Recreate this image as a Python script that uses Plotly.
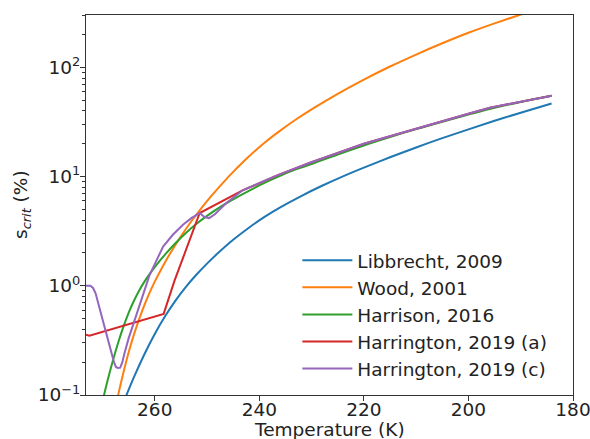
import plotly.graph_objects as go

# Critical supersaturation over ice (%) versus temperature (K)
T_libbrecht = [266.5, 265.4, 264.0, 262.0, 260.0, 258.0, 256.0, 254.0, 252.0, 250.0, 248.0, 245.0,
               242.0, 239.0, 236.0, 232.0, 228.0, 224.0, 220.0, 215.0, 210.0, 205.0, 200.0,
               195.0, 190.0, 184.1]
s_libbrecht = [0.074, 0.100, 0.145, 0.235, 0.362, 0.528, 0.736, 0.984, 1.268, 1.596, 1.972, 2.636,
               3.404, 4.276, 5.224, 6.637, 8.241, 10.05, 12.08, 15.03, 18.49, 22.49, 27.10,
               32.43, 38.46, 46.67]

T_wood = [268.0, 267.0, 266.0, 265.0, 264.0, 263.0, 262.0, 261.0, 260.0, 258.5, 257.0, 255.0,
          253.0, 251.0, 249.0, 247.0, 245.0, 242.0, 239.0, 236.0, 233.0, 230.0, 225.0, 220.0,
          215.0, 210.0, 205.0, 200.0, 195.0, 190.0, 185.0, 184.1]
s_wood = [0.060, 0.100, 0.160, 0.245, 0.355, 0.492, 0.661, 0.861, 1.091, 1.496, 2.000, 2.838,
          3.899, 5.212, 6.808, 8.730, 11.04, 15.28, 20.42, 26.36, 33.34, 41.30, 57.28, 77.27,
          101.9, 131.2, 166.3, 207.5, 252.9, 304.8, 366.4, 378.4]

T_harrison = [270.5, 269.7, 269.0, 268.0, 267.0, 266.0, 265.0, 264.0, 263.0, 262.0, 261.0, 260.0,
              258.0, 256.0, 254.0, 252.0, 250.0, 247.0, 245.0, 242.0, 239.0, 236.7, 233.0, 230.0,
              225.0, 220.0, 215.0, 210.0, 205.0, 200.0, 195.0, 190.0, 184.1]
s_harrison = [0.068, 0.100, 0.137, 0.207, 0.301, 0.420, 0.564, 0.726, 0.902, 1.086, 1.279, 1.486,
              1.941, 2.466, 3.062, 3.698, 4.365, 5.445, 6.194, 7.413, 8.750, 9.840, 11.66, 13.03,
              15.96, 19.28, 23.01, 27.23, 31.84, 36.98, 42.66, 48.31, 54.95]

T_harrington_a = [273.15, 272.5, 258.3, 256.2, 251.4, 243.2, 240.0, 236.7, 230.3, 225.0, 220.0,
                  215.0, 210.0, 205.0, 200.0, 195.9, 190.0, 184.1]
s_harrington_a = [0.357, 0.350, 0.553, 1.12, 4.64, 7.49, 8.7, 10.2, 13.4, 16.6, 20.0,
                  23.4, 27.5, 32.4, 37.6, 42.7, 48.4, 55.0]

T_harrington_c = [273.15, 272.3, 271.8, 271.3, 270.3, 269.3, 268.3, 267.8, 267.4, 267.0, 266.6,
                  266.2, 265.8, 265.0, 264.0, 263.0, 262.0, 261.0, 260.0, 258.4, 256.5, 254.6,
                  253.0, 251.4, 250.5, 249.6, 248.5, 246.3, 243.2, 240.0, 236.7, 230.3, 225.0,
                  220.0, 215.0, 210.0, 205.0, 200.0, 195.9, 190.0, 184.1]
s_harrington_c = [1.00, 1.00, 0.955, 0.85, 0.56, 0.37, 0.245, 0.20, 0.18, 0.177, 0.178,
                  0.20, 0.24, 0.33, 0.46, 0.64, 0.87, 1.25, 1.58, 2.29, 2.95, 3.63,
                  4.17, 4.64, 4.27, 4.17, 4.52, 5.74, 7.49, 8.7, 10.2, 13.4, 16.6,
                  20.0, 23.4, 27.5, 32.4, 37.6, 42.7, 48.4, 55.0]

series = [
    ("Libbrecht, 2009", T_libbrecht, s_libbrecht, "#1f77b4", "spline"),
    ("Wood, 2001", T_wood, s_wood, "#ff7f0e", "spline"),
    ("Harrison, 2016", T_harrison, s_harrison, "#2ca02c", "spline"),
    ("Harrington, 2019 (a)", T_harrington_a, s_harrington_a, "#d62728", "linear"),
    ("Harrington, 2019 (c)", T_harrington_c, s_harrington_c, "#9467bd", "linear"),
]

x_ticks = [260, 240, 220, 200, 180]
y_ticks = [0.1, 1, 10, 100]
y_ticktext = ["10<sup>\u22121</sup>", "10<sup>0</sup>", "10<sup>1</sup>", "10<sup>2</sup>"]
y_minor = [m * 10.0 ** e for e in (-1, 0, 1, 2) for m in range(2, 10)]

font_family = "DejaVu Sans"
text_color = "#222222"

fig = go.Figure()
for name, t, s, color, shape in series:
    line = dict(color=color, width=2, shape=shape)
    if shape == "spline":
        line["smoothing"] = 1.0
    fig.add_trace(go.Scatter(x=t, y=s, mode="lines", name=name, line=line))

axis_common = dict(
    showgrid=False, zeroline=False, showline=True, linecolor="#333333", linewidth=1,
    mirror=True, ticks="outside", ticklen=5, tickwidth=1, tickcolor="#333333",
    tickfont=dict(family=font_family, size=18.5, color=text_color),
    ticklabeloverflow="allow", automargin=False,
)

fig.update_layout(
    width=590, height=439,
    margin=dict(l=86, r=17, t=15, b=44, autoexpand=False),
    paper_bgcolor="white", plot_bgcolor="white",
    font=dict(family=font_family, color=text_color),
    xaxis=dict(
        range=[273.15, 180], tickmode="array", tickvals=x_ticks,
        ticktext=[str(v) for v in x_ticks], ticklabelstandoff=-7,
        **axis_common,
    ),
    yaxis=dict(
        type="log", range=[-1, 2.48], tickmode="array", tickvals=y_ticks, ticktext=y_ticktext,
        ticklabelstandoff=-4,
        minor=dict(tickmode="array", tickvals=y_minor, ticks="outside", ticklen=3,
                   tickcolor="#333333", tickwidth=1),
        **axis_common,
    ),
    legend=dict(
        x=0.434, y=0.019, xanchor="left", yanchor="bottom",
        bgcolor="rgba(255,255,255,0.8)", borderwidth=0,
        font=dict(family=font_family, size=18.5, color=text_color),
        itemwidth=50, tracegroupgap=0,
    ),
    showlegend=True,
    annotations=[
        dict(text="Temperature (K)", xref="paper", yref="paper", x=0.5, y=-0.092,
             xanchor="center", yanchor="middle", showarrow=False,
             font=dict(family=font_family, size=18.5, color=text_color)),
        dict(text="s<sub><i>crit</i></sub> (%)", xref="paper", yref="paper", x=-0.1314, y=0.5,
             xanchor="center", yanchor="middle", textangle=-90, showarrow=False,
             font=dict(family=font_family, size=18.5, color=text_color)),
    ],
)

fig.write_html("out.html")
